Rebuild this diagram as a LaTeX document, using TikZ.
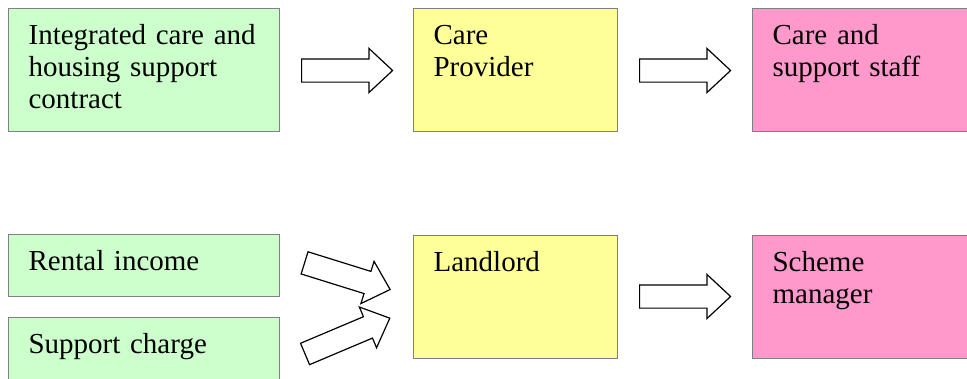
\documentclass[tikz,border=0pt]{standalone}
\usepackage{fontspec}
\setmainfont{Liberation Serif}
\usetikzlibrary{shapes.arrows}
\definecolor{boxgreen}{HTML}{CCFFCC}
\definecolor{boxyellow}{HTML}{FFFF99}
\definecolor{boxpink}{HTML}{FF99CC}
\definecolor{boxgray}{HTML}{808080}
\begin{document}
\begin{tikzpicture}[x=1pt,y=-1pt,
  box node/.style={draw=boxgray,line width=1.2pt,anchor=north west,align=left,
    inner xsep=20pt,inner ysep=15pt,text height=21pt,
    font=\fontsize{29}{32}\selectfont},
  tall node/.style={box node,text depth=72pt},
  flat node/.style={box node,text depth=11pt},
  arrow node/.style={single arrow,draw=black,fill=white,line width=1.2pt,
    anchor=tail,inner xsep=0pt,inner ysep=11pt,text width=0pt,
    text height=0pt,text depth=0pt,single arrow head extend=10.5pt,
    single arrow tip angle=86,minimum height=91pt}]
  \useasboundingbox (0,0) rectangle (967,378);

  \node[tall node,fill=boxgreen,text width=231pt] (contract) at (8,8) {Integrated care and\\housing support\\contract};
  \node[tall node,fill=boxyellow,text width=164pt] (provider) at (413,8) {Care\\Provider};
  \node[tall node,fill=boxpink,text width=200pt] (staff) at (752,8) {Care and\\support staff};

  \node[flat node,fill=boxgreen,text width=231pt] (rent) at (8,234) {Rental income};
  \node[flat node,fill=boxgreen,text width=231pt] (charge) at (8,317) {Support charge};
  \node[tall node,fill=boxyellow,text width=164pt] (landlord) at (413,235) {Landlord};
  \node[tall node,fill=boxpink,text width=200pt] (manager) at (752,235) {Scheme\\manager};

  \node[arrow node] (a1) at (301,70.5) {};
  \node[arrow node] (a2) at (639,70.5) {};
  \node[arrow node,rotate=-17.3,minimum height=89.6pt] (a3) at (304,262.7) {};
  \node[arrow node,rotate=22.9,minimum height=92pt] (a4) at (304.5,354.2) {};
  \node[arrow node] (a5) at (639,296.5) {};
\end{tikzpicture}
\end{document}
